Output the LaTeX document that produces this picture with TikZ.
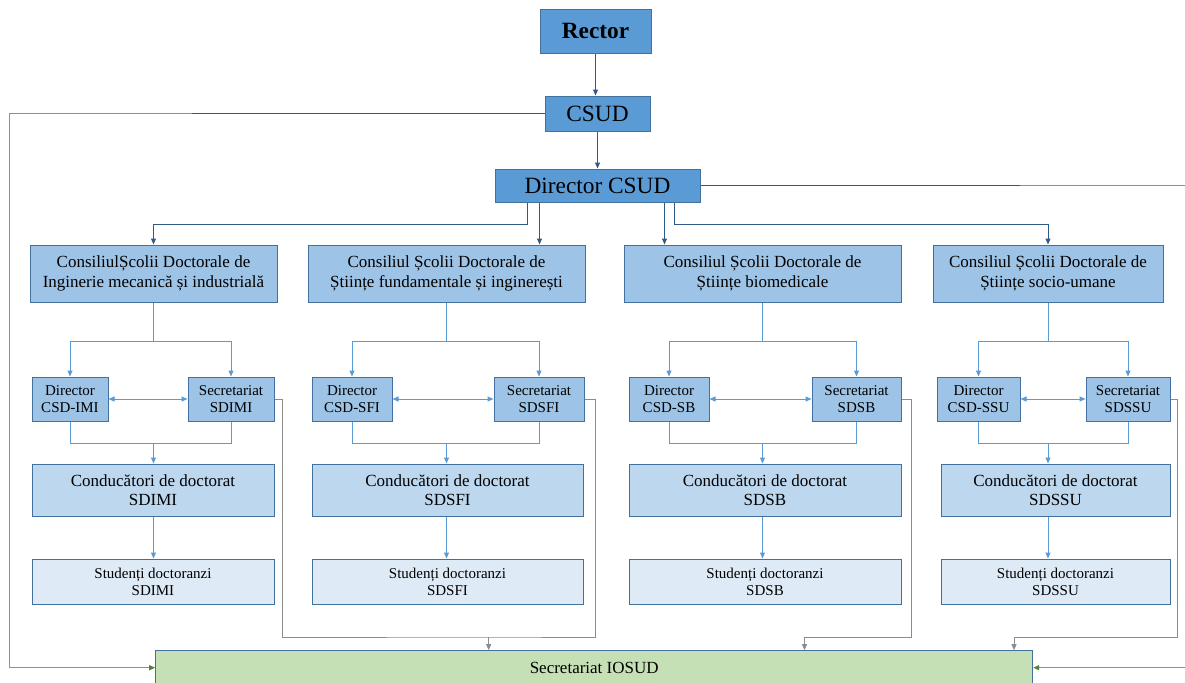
\documentclass[tikz,border=0pt]{standalone}
\usepackage{fontspec}
\setmainfont{Liberation Serif}
\usetikzlibrary{arrows.meta,calc}
\definecolor{topblue}{HTML}{5B9BD5}
\definecolor{midblue}{HTML}{9DC3E6}
\definecolor{lowblue}{HTML}{BDD7EE}
\definecolor{paleblue}{HTML}{DEEBF7}
\definecolor{edgeblue}{HTML}{41719C}
\definecolor{linkblue}{HTML}{2F5A87}
\definecolor{subblue}{HTML}{5B9BD5}
\definecolor{iosudgreen}{HTML}{C5E0B4}
\definecolor{loopgreen}{HTML}{78A850}
\definecolor{tipgreen}{HTML}{548235}
\definecolor{loopgray}{HTML}{505050}
\definecolor{secgray}{HTML}{8C8C8C}
\begin{document}
\begin{tikzpicture}[x=0.75pt,y=-0.75pt,>={Triangle[length=4.5pt,width=3.75pt]},
  box/.style={draw=edgeblue,line width=0.75pt,inner sep=0pt,align=center},
  headbox/.style={box,fill=topblue,font=\fontsize{17.5}{20}\selectfont},
  consbox/.style={box,fill=midblue,font=\fontsize{12.75}{15}\selectfont},
  smallbox/.style={box,fill=midblue,font=\fontsize{11.25}{12.75}\selectfont},
  condbox/.style={box,fill=lowblue,font=\fontsize{12.75}{14.25}\selectfont},
  studbox/.style={box,fill=paleblue,font=\fontsize{11.25}{12.75}\selectfont},
  iosudbox/.style={box,fill=iosudgreen,font=\fontsize{12.75}{15}\selectfont},
  toplink/.style={draw=linkblue,line width=0.75pt,->},
  sublink/.style={draw=subblue,line width=0.75pt},
  seclink/.style={draw=secgray,line width=0.75pt},
  graylink/.style={draw=loopgray,line width=0.9pt},
  greenlink/.style={draw=loopgreen,line width=0.9pt}]
  \useasboundingbox (0,0) rectangle (1185,682);
  \clip (0,0) rectangle (1185,682);
  \def\bx#1#2#3#4#5#6#7{
    \node[#6,minimum width={(#4-#2)*0.75pt},minimum height={(#5-#3)*0.75pt}] (#1) at ({(#2+#4)/2},{(#3+#5)/2}) {#7};
  }

  % top of the chart
  \bx{rector}{540}{9}{651}{53}{headbox}{\bfseries Rector}
  \bx{csud}{545}{96}{650}{131}{headbox}{CSUD}
  \bx{dcsud}{495}{169}{700}{202}{headbox}{Director CSUD}
  \bx{iosud}{155.7}{650.7}{1032.7}{684.7}{iosudbox}{Secretariat IOSUD}

  \draw[toplink] (rector.south) -- (rector.south |- csud.north);
  \draw[toplink] (csud) -- (dcsud);
  \foreach \k/\dx in {1/-70,2/-58,3/67,4/77}
    \coordinate (br\k) at ($(dcsud.south)+(\dx,0)$);

  % one column per doctoral school
  \foreach \i/\consL/\consR/\dirL/\dirR/\secL/\secR/\lowL/\lowR/\ab/\txt in {
    1/30/277/32/108/188/274/32/274/IMI/{ConsiliulȘcolii Doctorale de\\Inginerie mecanică și industrială},
    2/308/585/312/392/494/584/312/583/SFI/{Consiliul Școlii Doctorale de\\Științe fundamentale și inginerești},
    3/624/901/629/709/812/901/629/901/SB/{Consiliul Școlii Doctorale de\\Științe biomedicale},
    4/933/1163/937/1020/1086/1170/941/1170/SSU/{Consiliul Școlii Doctorale de\\Științe socio-umane}} {
    \bx{cons\i}{\consL}{245}{\consR}{302}{consbox}{\txt}
    \bx{dir\i}{\dirL}{377}{\dirR}{421}{smallbox}{Director\\CSD-\ab}
    \bx{sec\i}{\secL}{377}{\secR}{421}{smallbox}{Secretariat\\SD\ab}
    \bx{cond\i}{\lowL}{464}{\lowR}{516}{condbox}{Conducători de doctorat\\SD\ab}
    \bx{stud\i}{\lowL}{559}{\lowR}{604}{studbox}{Studenți doctoranzi\\SD\ab}
    \draw[sublink,->] (cons\i.south) -- ++(0,38.5) coordinate (sp\i) -| (dir\i.north);
    \draw[sublink,->] (sp\i) -| (sec\i.north);
    \draw[sublink,<->] (dir\i.east) -- (sec\i.west);
    \draw[sublink] (dir\i.south) -- ++(0,22) coordinate (mg\i) -| (sec\i.south);
    \draw[sublink,->] (mg\i -| cons\i.south) -- (cons\i.south |- cond\i.north);
    \draw[sublink,->] (cons\i.south |- cond\i.south) -- (cons\i.south |- stud\i.north);
  }

  \draw[toplink] (br1) -- ++(0,21.5) -| (cons1.north);
  \draw[toplink] (br2) -- (br2 |- cons2.north);
  \draw[toplink] (br3) -- (br3 |- cons3.north);
  \draw[toplink] (br4) -- ++(0,21.5) -| (cons4.north);

  % secretariats to IOSUD
  \coordinate (jA) at (488.7,637);
  \coordinate (jB) at (804.5,637);
  \coordinate (jC) at (1014,637);
  \draw[seclink] (sec1.east) -- ++(7.5,0) |- (jA) -| ($(sec2.east)+(11,0)$) -- (sec2.east);
  \draw[seclink] (sec3.east) -- ++(10,0) |- (jB);
  \draw[seclink] (sec4.east) -- ++(6.5,0) |- (jC);
  \foreach \j in {jA,jB,jC}
    \draw[seclink,->] (\j) -- (\j |- iosud.north);

  % outer loops
  \coordinate (gl) at (192,113.5);
  \coordinate (lc) at (9.5,113.5);
  \coordinate (gr) at (1020,185.5);
  \coordinate (rc) at (1200,185.5);
  \draw[graylink] (csud.west) -- (gl);
  \draw[greenlink,-{Triangle[length=4.5pt,width=3.75pt,color=tipgreen]}] (gl) -- (lc) |- (iosud.west);
  \draw[graylink] (dcsud.east) -- (gr);
  \draw[greenlink,-{Triangle[length=4.5pt,width=3.75pt,color=tipgreen]}] (gr) -- (rc) |- (iosud.east);
\end{tikzpicture}
\end{document}
